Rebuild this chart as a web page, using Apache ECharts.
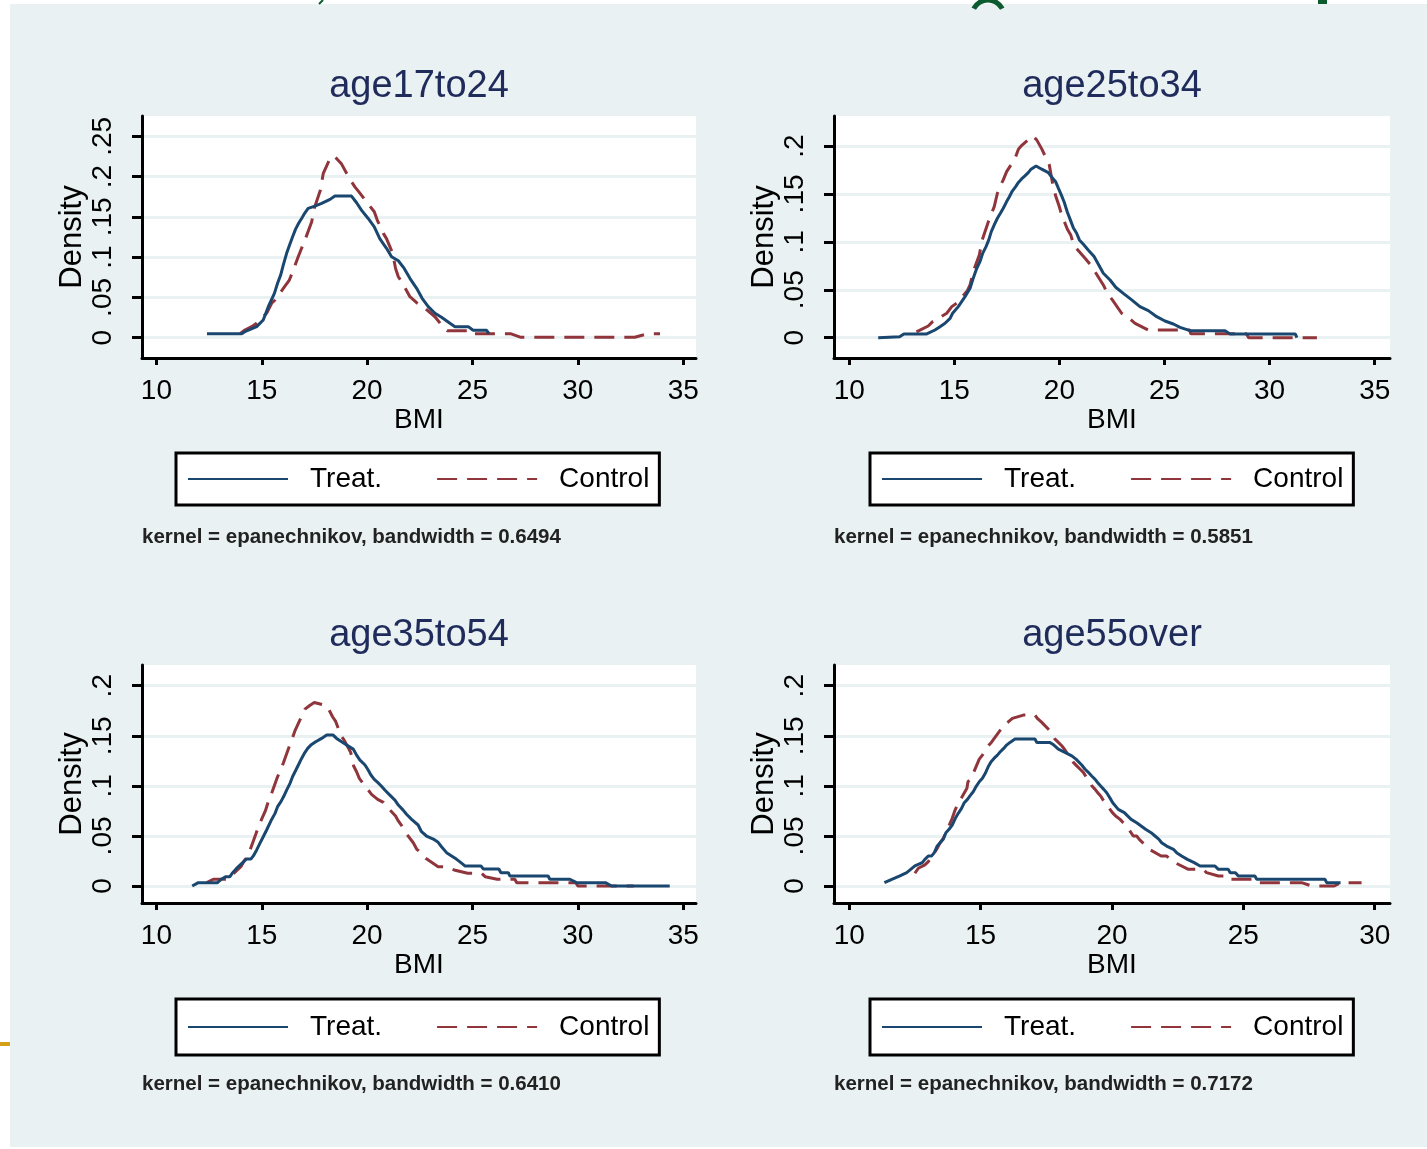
<!DOCTYPE html>
<html>
<head>
<meta charset="utf-8">
<title>BMI density by age group</title>
<script src="https://cdn.jsdelivr.net/npm/echarts@6/dist/echarts.min.js"></script>
<style>
  html, body { margin: 0; padding: 0; background: #ffffff; }
  #chart { width: 1427px; height: 1149px; }
</style>
</head>
<body>
<div id="chart"></div>
<script>
// Kernel density estimates of BMI, treatment vs control, by age group.
// Each curve is a list of [BMI, density] pairs.

const age17to24_treat = [
  [12.4,0.005],[14.05,0.005],[14.2,0.0075],[14.76,0.0137],[15.07,0.022],[15.31,0.0385],
  [15.6,0.055],[15.75,0.0675],[15.9,0.078],[16.02,0.09],[16.18,0.1047],[16.32,0.115],
  [16.46,0.125],[16.6,0.1345],[16.75,0.142],[16.89,0.148],[17.05,0.155],[17.2,0.1605],
  [17.52,0.1634],[17.84,0.1667],[18.24,0.1717],[18.47,0.1758],[19.26,0.1758],[19.5,0.1675],
  [19.74,0.158],[20.05,0.148],[20.34,0.1377],[20.6,0.123],[20.92,0.111],[21.16,0.1005],
  [21.48,0.0955],[21.76,0.086],[22.03,0.0737],[22.35,0.0613],[22.61,0.0489],[22.9,0.0385],
  [23.22,0.0303],[23.53,0.0253],[23.93,0.0179],[24.17,0.0137],[24.8,0.0137],[25.03,0.0092],
  [25.67,0.0092],[25.78,0.005]
];
const age17to24_control = [
  [13.97,0.005],[14.2,0.0095],[14.52,0.0137],[14.76,0.018],[15.23,0.0303],[15.47,0.0427],
  [15.63,0.0468],[16.1,0.064],[16.31,0.0716],[16.5,0.084],[16.73,0.1005],[16.89,0.111],
  [17.05,0.1212],[17.37,0.144],[17.49,0.1605],[17.78,0.183],[17.92,0.204],[18.24,0.2226],
  [18.43,0.2258],[18.79,0.2155],[19.18,0.1965],[19.42,0.1873],[19.61,0.181],[20.13,0.1634],
  [20.34,0.1563],[20.48,0.146],[20.77,0.1295],[20.92,0.123],[21.08,0.113],[21.21,0.1047],
  [21.35,0.086],[21.48,0.0757],[21.64,0.0695],[22.03,0.0509],[22.35,0.0434],[22.66,0.0385],
  [23.22,0.026],[23.53,0.0158],[23.8,0.0087],[24.96,0.0087],[25.03,0.005],[26.8,0.005],
  [27.3,0.0005],[32.7,0.0005],[33.34,0.005],[33.9,0.005]
];

const age25to34_treat = [
  [11.38,0],[12.4,0.001],[12.6,0.0039],[13.69,0.0039],[14.08,0.008],[14.32,0.0115],
  [14.56,0.015],[14.8,0.0202],[14.92,0.0255],[15.19,0.0324],[15.35,0.0376],[15.51,0.0428],
  [15.75,0.0515],[15.9,0.062],[16.07,0.0724],[16.22,0.0793],[16.35,0.088],[16.51,0.095],
  [16.64,0.102],[16.76,0.1106],[16.9,0.1176],[17.05,0.1246],[17.2,0.13],[17.33,0.135],
  [17.49,0.142],[17.62,0.147],[17.76,0.153],[17.92,0.1576],[18.05,0.162],[18.2,0.1656],
  [18.36,0.1688],[18.52,0.1722],[18.65,0.1758],[18.89,0.1792],[19.16,0.1758],[19.47,0.1722],
  [19.68,0.1664],[19.82,0.1628],[19.95,0.156],[20.09,0.149],[20.23,0.1413],[20.38,0.1309],
  [20.52,0.1229],[20.66,0.1148],[20.82,0.109],[20.95,0.102],[21.14,0.0975],[21.37,0.0915],
  [21.65,0.0846],[21.8,0.0787],[22.09,0.0672],[22.41,0.0602],[22.68,0.0526],[23.04,0.0463],
  [23.44,0.0394],[23.83,0.0324],[24.23,0.0282],[24.63,0.0219],[25.02,0.0174],[25.42,0.0143],
  [25.74,0.0108],[26.21,0.0073],[27.88,0.0073],[28.12,0.0039],[31.22,0.0039],[31.3,0]
];
const age25to34_control = [
  [13.2,0.006],[13.76,0.0122],[13.97,0.0167],[14.64,0.0255],[14.88,0.0324],[15.11,0.036],
  [15.62,0.049],[15.75,0.055],[15.9,0.0689],[16.19,0.0863],[16.33,0.102],[16.62,0.121],
  [16.78,0.13],[16.9,0.1367],[17.05,0.1507],[17.17,0.1576],[17.33,0.1646],[17.49,0.1733],
  [17.78,0.1831],[17.92,0.1889],[18.05,0.1967],[18.2,0.2004],[18.73,0.2105],[18.92,0.2064],
  [19.16,0.197],[19.52,0.1803],[19.66,0.1628],[19.82,0.148],[19.97,0.1385],[20.11,0.128],
  [20.38,0.1132],[20.54,0.1072],[20.69,0.096],[21.22,0.0829],[21.49,0.0759],[21.74,0.0672],
  [22.09,0.055],[22.28,0.0463],[22.52,0.0394],[22.96,0.0255],[23.28,0.0209],[23.6,0.015],
  [24.23,0.008],[26.2,0.008],[26.25,0.004],[28.9,0.004],[29.0,0],[32.25,0]
];

const age35to54_treat = [
  [11.7,0],[11.99,0.0033],[12.9,0.0033],[13.1,0.007],[13.3,0.0093],[13.49,0.0093],
  [13.62,0.0133],[13.78,0.017],[14.28,0.027],[14.49,0.027],[14.6,0.03],[14.76,0.036],
  [14.91,0.0426],[15.07,0.0492],[15.23,0.0559],[15.47,0.0665],[15.63,0.0725],[15.75,0.0792],
  [15.91,0.0842],[16.05,0.0898],[16.18,0.0958],[16.34,0.1025],[16.46,0.1091],[16.62,0.1158],
  [16.76,0.1218],[16.89,0.1274],[17.02,0.1324],[17.18,0.1374],[17.33,0.1407],[17.56,0.144],
  [17.84,0.1474],[18.08,0.1507],[18.39,0.1507],[18.55,0.1474],[18.79,0.144],[19.03,0.1407],
  [19.34,0.1367],[19.5,0.1307],[19.66,0.1257],[19.9,0.1208],[20.05,0.1158],[20.18,0.1108],
  [20.34,0.1065],[20.5,0.1035],[20.66,0.1001],[20.84,0.0958],[21.08,0.0908],[21.32,0.0858],
  [21.48,0.0808],[21.71,0.0758],[21.87,0.0716],[22.11,0.0665],[22.42,0.0609],[22.58,0.0542],
  [22.82,0.0499],[23.14,0.0469],[23.37,0.0436],[23.53,0.0392],[23.77,0.0333],[24.01,0.03],
  [24.25,0.0266],[24.45,0.0233],[24.64,0.02],[25.4,0.02],[25.51,0.017],[26.25,0.017],
  [26.35,0.0133],[26.7,0.0133],[26.77,0.01],[28.59,0.01],[28.67,0.0067],[29.62,0.0067],
  [29.94,0.0033],[31.31,0.0033],[31.6,0],[34.36,0]
];
const age35to54_control = [
  [12.39,0.0033],[12.7,0.0067],[13.38,0.0067],[13.73,0.0137],[14.01,0.0193],[14.17,0.0253],
  [14.33,0.0293],[14.6,0.0449],[14.72,0.0519],[14.87,0.0609],[15.17,0.0749],[15.31,0.0842],
  [15.45,0.0915],[15.74,0.1085],[15.88,0.1158],[16.02,0.1225],[16.3,0.139],[16.45,0.1474],
  [16.59,0.1557],[16.92,0.1707],[17.05,0.1766],[17.26,0.18],[17.49,0.1833],[18.08,0.18],
  [18.2,0.1756],[18.36,0.169],[18.5,0.1647],[18.76,0.15],[18.91,0.1457],[19.08,0.139],
  [19.22,0.1334],[19.36,0.1198],[19.5,0.1141],[19.63,0.1075],[19.77,0.1035],[20.21,0.0915],
  [20.5,0.0865],[20.77,0.0835],[20.93,0.0792],[21.35,0.0699],[21.48,0.0649],[21.64,0.0602],
  [21.83,0.0532],[22.19,0.0432],[22.35,0.0369],[22.58,0.0326],[22.78,0.0276],[23.37,0.0193],
  [23.69,0.0193],[24.13,0.016],[24.77,0.0127],[25.43,0.0127],[25.6,0.0093],[26.17,0.0067],
  [27.01,0.0067],[27.1,0.0033],[29.9,0.0033],[30.0,0],[32.65,0]
];

const age55over_treat = [
  [11.34,0.0033],[11.62,0.0067],[11.93,0.01],[12.19,0.0133],[12.5,0.02],[12.78,0.0233],
  [12.88,0.0266],[13.01,0.03],[13.14,0.03],[13.24,0.0333],[13.35,0.04],[13.58,0.0466],
  [13.68,0.0532],[13.8,0.0566],[13.92,0.0609],[14.04,0.0676],[14.15,0.0726],[14.27,0.0772],
  [14.38,0.0832],[14.5,0.0865],[14.61,0.0905],[14.72,0.0941],[14.84,0.0998],[14.95,0.1041],
  [15.07,0.1075],[15.18,0.1125],[15.29,0.1191],[15.4,0.1241],[15.51,0.1274],[15.64,0.1307],
  [15.75,0.134],[15.88,0.1374],[15.99,0.1407],[16.12,0.1434],[16.31,0.1467],[17.07,0.1467],
  [17.14,0.1434],[17.64,0.1434],[17.79,0.1407],[17.96,0.1367],[18.21,0.1334],[18.47,0.13],
  [18.63,0.1267],[18.85,0.1208],[18.97,0.1168],[19.1,0.1135],[19.23,0.1098],[19.36,0.1065],
  [19.46,0.1031],[19.57,0.0998],[19.69,0.0965],[19.8,0.0931],[19.91,0.0885],[20.03,0.0832],
  [20.24,0.0765],[20.47,0.0732],[20.73,0.0665],[20.94,0.0632],[21.11,0.0599],[21.28,0.0566],
  [21.49,0.0532],[21.64,0.0499],[21.79,0.0466],[21.89,0.0432],[22.08,0.0399],[22.34,0.0366],
  [22.46,0.0333],[22.65,0.03],[22.87,0.0266],[23.13,0.0233],[23.35,0.02],[23.92,0.02],
  [24.05,0.0166],[24.43,0.0166],[24.5,0.0133],[24.7,0.0133],[24.81,0.01],[25.44,0.01],
  [25.51,0.0067],[28.11,0.0067],[28.17,0.0033],[28.7,0.0033]
];
const age55over_control = [
  [12.5,0.0127],[12.63,0.0177],[12.88,0.021],[13.01,0.0243],[13.35,0.0376],[13.46,0.0432],
  [13.58,0.0476],[13.68,0.0532],[13.92,0.0676],[14.03,0.0758],[14.15,0.0825],[14.48,0.0975],
  [14.52,0.1041],[14.62,0.1068],[14.72,0.1125],[14.95,0.1267],[15.07,0.1307],[15.18,0.1357],
  [15.29,0.14],[15.41,0.1434],[15.75,0.1557],[15.87,0.1607],[16.03,0.1634],[16.21,0.1674],
  [16.63,0.1707],[17.07,0.1707],[17.16,0.1674],[17.33,0.1634],[17.73,0.1524],[17.83,0.1467],
  [17.96,0.1434],[18.09,0.14],[18.19,0.1367],[18.42,0.1274],[18.53,0.1234],[18.66,0.12],
  [18.78,0.1168],[18.91,0.1135],[19.23,0.1001],[19.36,0.0965],[19.46,0.0931],[19.57,0.0898],
  [19.69,0.0848],[20.01,0.0735],[20.14,0.0699],[20.31,0.0665],[20.43,0.0632],[20.56,0.0599],
  [20.81,0.0499],[20.94,0.0499],[21.04,0.0466],[21.17,0.0432],[21.32,0.0399],[21.42,0.0366],
  [21.87,0.03],[22.08,0.03],[22.21,0.0266],[22.4,0.0233],[22.91,0.0166],[23.48,0.0166],
  [23.6,0.0133],[24.05,0.01],[24.3,0.01],[24.37,0.0067],[25.4,0.0067],[25.51,0.0033],
  [27.22,0.0033],[27.6,0],[28.46,0],[28.72,0.0033],[29.5,0.0033]
];

// Panel titles, kernel notes and tick values
const panelTitles = ['age17to24', 'age25to34', 'age35to54', 'age55over'];
const bandwidths = ['0.6494', '0.5851', '0.6410', '0.7172'];
const seriesNames = ['Treat.', 'Control'];
const xTicksTo35 = [10, 15, 20, 25, 30, 35];
const xTicksTo30 = [10, 15, 20, 25, 30];
const yTicksTo25 = [0, 0.05, 0.1, 0.15, 0.2, 0.25];
const yTicksTo20 = [0, 0.05, 0.1, 0.15, 0.2];

const NAVY = '#1a476f';
const MAROON = '#90353b';
const PANEL_BG = '#e9f1f2';
const TITLE_COLOR = '#1f2b5b';
const SANS = '"Liberation Sans", Arial, sans-serif';

// layout of the four panels: plot box and axis ranges
const panels = [
  { grid: { left: 142, top: 116, width: 554, height: 242 }, x: [9.317, 35.607, xTicksTo35], y: [-0.0252, 0.2752, yTicksTo25],
    treat: age17to24_treat, control: age17to24_control, legend: [176, 453], legendPad: 12, titleY: 87, noteY: 537 },
  { grid: { left: 834, top: 116, width: 556, height: 242 }, x: [9.277, 35.728, xTicksTo35], y: [-0.0212, 0.2313, yTicksTo20],
    treat: age25to34_treat, control: age25to34_control, legend: [870, 453], legendPad: 12, titleY: 87, noteY: 537 },
  { grid: { left: 142, top: 665, width: 554, height: 238 }, x: [9.317, 35.607, xTicksTo35], y: [-0.017, 0.2207, yTicksTo20],
    treat: age35to54_treat, control: age35to54_control, legend: [176, 999], legendPad: 14, titleY: 636, noteY: 1084 },
  { grid: { left: 834, top: 665, width: 556, height: 238 }, x: [9.4215, 30.582, xTicksTo30], y: [-0.017, 0.2207, yTicksTo20],
    treat: age55over_treat, control: age55over_control, legend: [870, 999], legendPad: 14, titleY: 636, noteY: 1084 }
];

function yLabel(v) {
  if (v === 0) return '0';
  return String(+v.toFixed(4)).replace(/^0\./, '.');
}

const grids = [], xAxes = [], yAxes = [], series = [], legends = [], graphics = [];

// outer graph region
graphics.push({ type: 'rect', shape: { x: 10, y: 4, width: 1417, height: 1143 }, style: { fill: PANEL_BG }, z: -10, silent: true });
// slide fragments along the edges
graphics.push({ type: 'rect', shape: { x: 1318, y: 0, width: 9, height: 4 }, style: { fill: '#0b5b2f' }, silent: true });
graphics.push({ type: 'arc', shape: { cx: 988, cy: 16, r: 16, startAngle: Math.PI * 1.15, endAngle: Math.PI * 1.85 }, style: { stroke: '#0b5b2f', lineWidth: 5, fill: null }, silent: true });
graphics.push({ type: 'line', shape: { x1: 323, y1: 0, x2: 319, y2: 4 }, style: { stroke: '#0b5b2f', lineWidth: 2 }, silent: true });
graphics.push({ type: 'rect', shape: { x: 0, y: 1042, width: 10, height: 4 }, style: { fill: '#d4a017' }, silent: true });

panels.forEach((p, i) => {
  grids.push(Object.assign({ show: true, backgroundColor: '#ffffff', borderWidth: 0, containLabel: false }, p.grid));

  xAxes.push({
    type: 'value', gridIndex: i, min: p.x[0], max: p.x[1],
    name: 'BMI', nameLocation: 'middle', nameGap: 44,
    nameTextStyle: { fontFamily: SANS, fontSize: 28, color: '#000' },
    axisLine: { show: true, onZero: false, lineStyle: { color: '#000', width: 3 } },
    axisTick: { show: true, length: 7, lineStyle: { color: '#000', width: 3 }, customValues: p.x[2] },
    axisLabel: { fontFamily: SANS, fontSize: 28, color: '#000', margin: 19, customValues: p.x[2],
                 formatter: v => String(v) },
    splitLine: { show: false }
  });

  yAxes.push({
    type: 'value', gridIndex: i, min: p.y[0], max: p.y[1],
    name: 'Density', nameLocation: 'middle', nameGap: 53,
    nameTextStyle: { fontFamily: SANS, fontSize: 31, color: '#000' },
    axisLine: { show: true, onZero: false, lineStyle: { color: '#000', width: 3 } },
    axisTick: { show: true, length: 10, lineStyle: { color: '#000', width: 3 }, customValues: p.y[2] },
    axisLabel: { fontFamily: SANS, fontSize: 28, color: '#000', rotate: 90, margin: 25, customValues: p.y[2],
                 formatter: yLabel },
    splitLine: { show: true, lineStyle: { color: PANEL_BG, width: 3 } }
  });

  series.push({
    name: seriesNames[0], type: 'line', xAxisIndex: i, yAxisIndex: i, data: p.treat,
    symbol: 'none', smooth: false, clip: true,
    lineStyle: { color: NAVY, width: 3 }, itemStyle: { color: NAVY }, z: 3
  });
  series.push({
    name: seriesNames[1], type: 'line', xAxisIndex: i, yAxisIndex: i, data: p.control,
    symbol: 'none', smooth: false, clip: true,
    lineStyle: { color: MAROON, width: 3, type: [20, 10] }, itemStyle: { color: MAROON }, z: 2
  });

  legends.push({
    data: seriesNames, left: p.legend[0], top: p.legend[1], orient: 'horizontal',
    itemWidth: 100, itemHeight: 14, itemGap: 54, padding: [p.legendPad, 10, p.legendPad, 11],
    borderColor: '#000', borderWidth: 3, backgroundColor: '#ffffff', borderRadius: 0,
    selectedMode: false,
    itemStyle: { color: 'rgba(0,0,0,0)', borderWidth: 0 },
    textStyle: { fontFamily: SANS, fontSize: 28, color: '#000', padding: [0, 0, 0, 17] }
  });

  const cx = p.grid.left + p.grid.width / 2;
  graphics.push({ type: 'text', x: cx, y: p.titleY, silent: true,
    style: { text: panelTitles[i], font: '38px ' + SANS, fill: TITLE_COLOR, align: 'center', verticalAlign: 'middle' } });
  graphics.push({ type: 'text', x: p.grid.left, y: p.noteY, silent: true,
    style: { text: 'kernel = epanechnikov, bandwidth = ' + bandwidths[i], font: 'bold 20.5px ' + SANS, fill: '#222222', align: 'left', verticalAlign: 'middle' } });
});

const chart = echarts.init(document.getElementById('chart'), null, { renderer: 'canvas' });
chart.setOption({
  backgroundColor: '#ffffff',
  animation: false,
  grid: grids,
  xAxis: xAxes,
  yAxis: yAxes,
  series: series,
  legend: legends,
  graphic: graphics
});
</script>
</body>
</html>
